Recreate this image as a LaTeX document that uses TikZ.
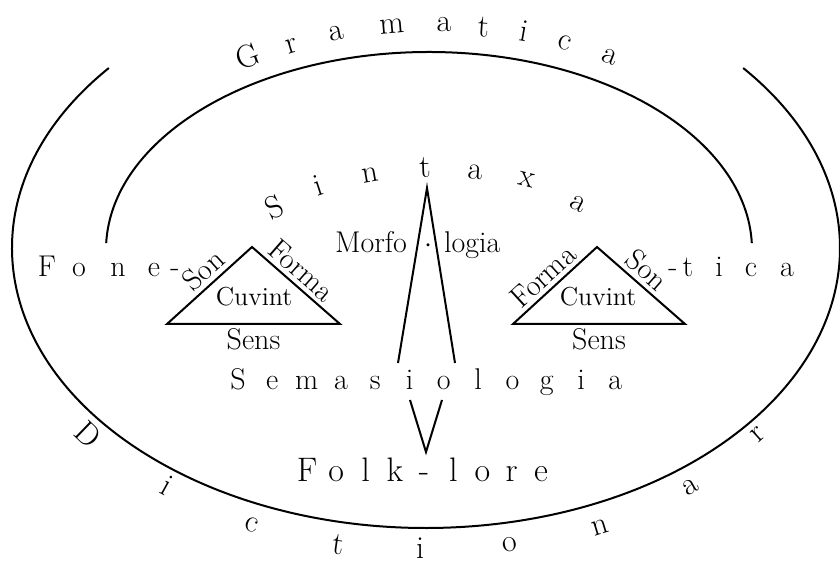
\documentclass[tikz,border=0pt]{standalone}
\begin{document}
\begin{tikzpicture}[x=0.5pt, y=0.5pt, line width=1pt,
  letter/.style={inner sep=0pt, font=\fontsize{16}{16}\selectfont},
  word/.style={inner sep=0pt, anchor=base, font=\fontsize{15}{15}\selectfont},
  lab/.style={inner sep=2pt, font=\fontsize{15}{15}\selectfont},
  small/.style={inner sep=0pt, font=\fontsize{13}{13}\selectfont}]
\useasboundingbox (0,0) rectangle (840,562);
% the two big curves
\draw (426,314) ++(140:414 and 280) arc[start angle=140, end angle=400, x radius=414, y radius=280];
\draw (429,312) ++(178:323 and 198) arc[start angle=178, end angle=2, x radius=323, y radius=198];
% words set along the curves
\foreach \c/\x/\y/\r [count=\i] in {G/248/506/20, r/292/516/17, a/336/529/11, m/392/536/5, a/444/537/0, t/484/535/-4, i/524/531/-10, c/565/519/-17, a/610/505/-22}
  \node[letter, rotate=\r] (gram\i) at (\x,\y) {\c};
\foreach \c/\x/\y/\r [count=\i] in {S/274/355/25, i/318/377/18, n/370/387/10, t/425/394/2, a/475/390/-5, x/527/382/-14, a/578/358/-28}
  \node[letter, rotate=\r] (sint\i) at (\x,\y) {\c};
\foreach \c/\x/\y/\r [count=\i] in {D/88/128/-44, i/167/77/-29, c/252/37/-17, t/338/17/-8, i/420/14/0, o/510/17/8, n/600/35/17, a/691/75/29, r/758/127/42}
  \node[letter, rotate=\r] (dict\i) at (\x,\y) {\c};
% straight words
\foreach \c/\x [count=\i] in {F/47, o/79, n/118, e/154, -/175}
  \node[word] (fone\i) at (\x,285) {\c};
\foreach \c/\x [count=\i] in {-/673, t/688, i/719, c/751, a/787}
  \node[word] (tica\i) at (\x,285) {\c};
\foreach \c [count=\i] in {S,e,m,a,s,i,o,l,o,g,i,a}
  \node[word] (sem\i) at ({238+34.3*(\i-1)},172) {\c};
\foreach \c [count=\i] in {F,o,l,k,-,l,o,r,e}
  \node[word, font=\fontsize{17}{17}\selectfont] (folk\i) at ({307+29.25*(\i-1)},80) {\c};
\node[word, anchor=base east] (morfo) at (408,309) {Morfo};
\node[word] (mdot) at (428,309) {$\cdot$};
\node[word, anchor=base west] (logia) at (443,309) {logia};
% the narrow wedge and the V
\coordinate (m1) at (398,199); \coordinate (m2) at (427,374); \coordinate (m3) at (455,199);
\draw (m1) -- (m2) -- (m3);
\coordinate (v1) at (410,162); \coordinate (v2) at (426,110); \coordinate (v3) at (442,162);
\draw (v1) -- (v2) -- (v3);
% left triangle
\coordinate (l1) at (167,238); \coordinate (l2) at (252,315); \coordinate (l3) at (340,238);
\draw (l1) -- node[lab, sloped, above, pos=0.55] (lson) {Son} (l2) -- node[lab, sloped, above, pos=0.45] (lforma) {Forma} (l3) -- node[lab, below] (lsens) {Sens} cycle;
\node[small] (lcuv) at (254,265) {Cuvint};
% right triangle
\coordinate (r1) at (513,238); \coordinate (r2) at (597,315); \coordinate (r3) at (685,238);
\draw (r1) -- node[lab, sloped, above, pos=0.48] (rforma) {Forma} (r2) -- node[lab, sloped, above, pos=0.45] (rson) {Son} (r3) -- node[lab, below] (rsens) {Sens} cycle;
\node[small] (rcuv) at (598,265) {Cuvint};
\end{tikzpicture}
\end{document}
